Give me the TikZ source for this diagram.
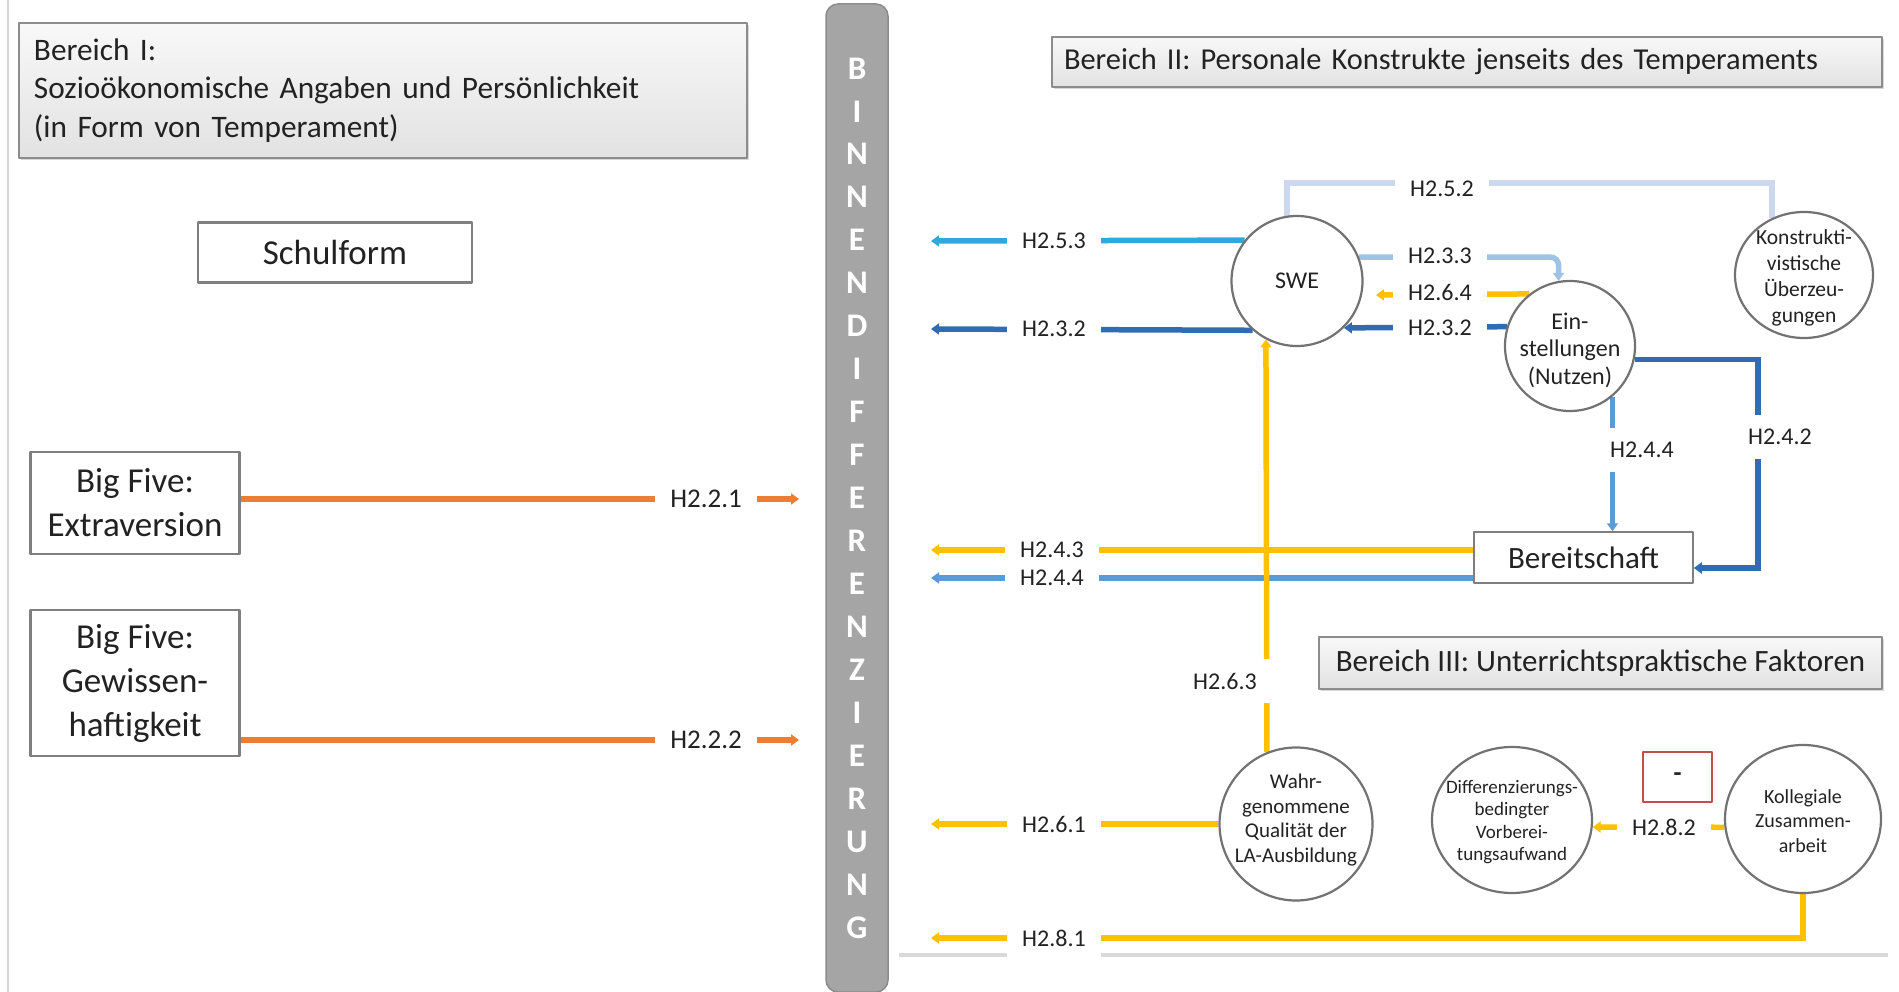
\documentclass[tikz,border=0pt]{standalone}
\usepackage{fontspec}
\setmainfont{Carlito}
\usetikzlibrary{arrows.meta,shapes.geometric,shadows,backgrounds}

\definecolor{ink}{HTML}{222222}
\definecolor{edge}{HTML}{727272}
\definecolor{boxedge}{HTML}{7F7F7F}
\definecolor{areaedge}{HTML}{8C8C8C}
\definecolor{areatop}{HTML}{F8F8F8}
\definecolor{areabot}{HTML}{E2E2E2}
\definecolor{orangeL}{HTML}{ED7D31}
\definecolor{goldL}{HTML}{FFC000}
\definecolor{cyanL}{HTML}{2FA8DA}
\definecolor{darkL}{HTML}{2E6DB4}
\definecolor{midL}{HTML}{5B9BD5}
\definecolor{lightL}{HTML}{9DC3E6}
\definecolor{paleL}{HTML}{CCD9EC}
\definecolor{barfill}{HTML}{A5A5A5}
\definecolor{baredge}{HTML}{8C8C8C}
\definecolor{rulegray}{HTML}{D9D9D9}
\definecolor{framegray}{HTML}{D4D4D4}
\definecolor{minusred}{HTML}{C0504D}

\newcommand{\setfs}[2]{\fontsize{#1}{#2}\selectfont}

\begin{document}
\begin{tikzpicture}[x=1pt, y=-1pt, line join=round,
  area/.style={draw=areaedge, line width=1.6pt, top color=areatop, bottom color=areabot,
    drop shadow={shadow xshift=2pt, shadow yshift=-2pt, opacity=0.3},
    text=ink, inner sep=0pt},
  factor/.style={draw=boxedge, line width=2.5pt, fill=white, text=ink, align=center, inner sep=0pt},
  construct/.style={ellipse, draw=edge, line width=2.2pt, fill=white, inner sep=0pt},
  ctext/.style={text=ink, align=center, inner sep=0pt},
  hlab/.style={fill=white, text=ink, font=\setfs{24}{28}, inner xsep=15pt, inner ysep=5pt},
  vlab/.style={hlab, inner xsep=5pt, inner ysep=14pt},
  conn/.style={line width=5.5pt},
  arrowtip/.style={-{Triangle[length=8pt,width=11pt]}}
]
\useasboundingbox (0,0) rectangle (1899,992);

% ---------- Bereich I ----------
\node[area, minimum width=728pt, minimum height=135pt, text width=698pt, inner xsep=15pt,
      align=left, font=\setfs{31.3}{38.3}] (areaI) at (383,90.5)
  {Bereich I:\\Sozioökonomische Angaben und Persönlichkeit\\(in Form von Temperament)};

\node[factor, minimum width=274pt, minimum height=60pt, font=\setfs{35}{42}] (schulform) at (335,252.5) {Schulform};
\node[factor, minimum width=209pt, minimum height=102pt, font=\setfs{35}{44}] (bfE) at (135,503) {Big Five:\\Extraversion};
\node[factor, minimum width=209pt, minimum height=146pt, font=\setfs{35}{44}] (bfG) at (135,683) {Big Five:\\Gewissen-\\haftigkeit};

% ---------- central bar ----------
\node[draw=baredge, line width=1.5pt, fill=barfill, rounded corners=12pt, minimum width=62pt,
      minimum height=988pt, inner sep=0pt, text=white, font=\setfs{33}{42.95}\bfseries, align=center]
  (bd) at (857,498)
  {B\\I\\N\\N\\E\\N\\D\\I\\F\\F\\E\\R\\E\\N\\Z\\I\\E\\R\\U\\N\\G};

% ---------- Bereich II ----------
\node[area, minimum width=830pt, minimum height=50pt, text width=806pt, inner xsep=12pt,
      align=left, font=\setfs{30.4}{36}] (areaII) at (1467,62)
  {Bereich II: Personale Konstrukte jenseits des Temperaments};

\node[construct, minimum width=131pt, minimum height=130pt,
      label={[ctext, font=\setfs{24}{28}]center:SWE}] (swe) at (1297,281) {};
\node[construct, minimum width=130pt, minimum height=130pt,
      label={[ctext, font=\setfs{24}{27.5}, yshift=-4pt]center:{Ein-\\stellungen\\(Nutzen)}}] (att) at (1570,346) {};
\node[construct, minimum width=138pt, minimum height=126pt,
      label={[ctext, font=\setfs{21.5}{26}, yshift=-3pt]center:{Konstrukti-\\vistische\\Überzeu-\\gungen}}] (constr) at (1804,275) {};
\node[factor, line width=1.5pt, minimum width=219pt, minimum height=51pt, font=\setfs{31}{36}] (ready) at (1583.5,557.5) {Bereitschaft};

% ---------- Bereich III ----------
\node[area, minimum width=563pt, minimum height=52pt, font=\setfs{31}{36}] (areaIII) at (1600.5,663)
  {Bereich III: Unterrichtspraktische Faktoren};

\node[construct, minimum width=153pt, minimum height=153pt,
      label={[ctext, font=\setfs{21}{24.7}, yshift=4pt]center:{Wahr-\\genommene\\Qualität der\\LA-Ausbildung}}] (quality) at (1296,824) {};
\node[construct, minimum width=160pt, minimum height=146pt,
      label={[ctext, font=\setfs{19}{22.3}, yshift=-2pt]center:{Differenzierungs-\\bedingter\\Vorberei-\\tungsaufwand}}] (effort) at (1512,820) {};
\node[construct, minimum width=156pt, minimum height=148pt,
      label={[ctext, font=\setfs{20}{24.5}, yshift=-2pt]center:{Kollegiale\\Zusammen-\\arbeit}}] (collab) at (1803,819) {};
\node[draw=minusred, line width=1.5pt, fill=white, minimum width=69pt, minimum height=50pt,
      inner sep=0pt, text=ink, font=\setfs{26}{30}\bfseries] (minus) at (1677.5,777) {-};

% ---------- hypothesis labels ----------
\node[hlab, font=\setfs{27}{32}] (h221) at (706,499) {H2.2.1};
\node[hlab, font=\setfs{27}{32}] (h222) at (706,740) {H2.2.2};
\node[hlab] (h253) at (1054,241) {H2.5.3};
\node[hlab] (h232a) at (1054,329) {H2.3.2};
\node[hlab] (h252) at (1442,189) {H2.5.2};
\node[hlab] (h233) at (1440,256) {H2.3.3};
\node[hlab] (h264) at (1440,292) {H2.6.4};
\node[hlab] (h232b) at (1440,328) {H2.3.2};
\node[vlab] (h242) at (1780,437) {H2.4.2};
\node[vlab] (h244v) at (1642,450) {H2.4.4};
\node[hlab] (h243) at (1052,550) {H2.4.3};
\node[hlab] (h244h) at (1052,578) {H2.4.4};
\node[vlab, inner xsep=17pt] (h263) at (1225,681) {H2.6.3};
\node[hlab] (h261) at (1054,824) {H2.6.1};
\node[hlab] (h282) at (1664,827) {H2.8.2};
\node[hlab, inner ysep=13pt] (h281) at (1054,938) {H2.8.1};

% ---------- free ends and corners ----------
\coordinate (e221) at (799,499);
\coordinate (e222) at (799,740);
\coordinate (e253) at (931,241);
\coordinate (e232) at (931,329);
\coordinate (e264) at (1376,295);
\coordinate (e243) at (931,550);
\coordinate (e244) at (931,578);
\coordinate (e261) at (931,824);
\coordinate (e281) at (931,938);
\coordinate (k252) at (1530,183);
\coordinate (k242) at (1758,568);

% ---------- connectors ----------
\begin{pgfonlayer}{background}
  \fill[white] (0,0) rectangle (1899,992);
  \draw[framegray, line width=2pt] (8,0) -- (8,992);
  \draw[rulegray, line width=4pt] (899,955) -- (1888,955);

  \draw[conn, orangeL, arrowtip] (bfE.east |- h221) -- (e221);
  \draw[conn, orangeL, arrowtip] (bfG.east |- h222) -- (e222);

  \draw[paleL, line width=6pt] (swe.99) |- (k252) -| (constr.119);
  \draw[conn, cyanL, arrowtip] (swe.142) -- (e253);
  \draw[conn, darkL, arrowtip] (swe.228) -- (e232);
  \draw[conn, lightL, arrowtip, rounded corners=8pt] (swe.21) -| (att.100);
  \draw[conn, goldL, arrowtip] (att.128) -- (e264);
  \draw[conn, darkL, arrowtip] (att.163) -- (swe.-45);
  \draw[conn, darkL, arrowtip] (att.-12) -| (k242) -- (k242 -| ready.east);
  \draw[conn, midL, arrowtip] (att.-50) -- (att.-50 |- ready.north);

  \draw[conn, goldL, arrowtip] (e243 -| ready.west) -- (e243);
  \draw[conn, midL, arrowtip] (e244 -| ready.west) -- (e244);
  \draw[conn, goldL, arrowtip] (quality.112) -- (swe.242);

  \draw[conn, goldL, arrowtip] (quality.west) -- (e261);
  \draw[conn, goldL, arrowtip] (collab.186) -- (effort.-5);
  \draw[conn, goldL, arrowtip] (collab.south) |- (e281);
\end{pgfonlayer}
\end{tikzpicture}
\end{document}
